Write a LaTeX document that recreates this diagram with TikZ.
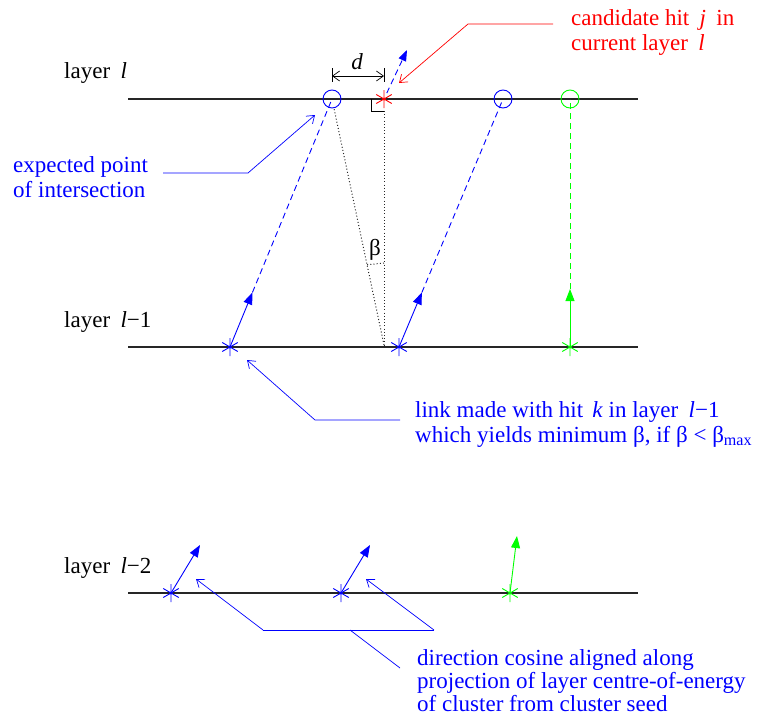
\documentclass[tikz,border=0pt]{standalone}
\usepackage{fontspec}
\setmainfont{Liberation Serif}
\usetikzlibrary{arrows.meta,calc}
\begin{document}
\begin{tikzpicture}[x=1pt,y=-1pt,
  layerline/.style={line width=1.1pt, black!85},
  hitmark/.style={circle, inner sep=0pt, minimum size=19pt,
    path picture={\draw[#1, line width=0.9pt, shift={(path picture bounding box.center)}]
      (90:9pt)--(270:9pt) (30:9pt)--(210:9pt) (150:9pt)--(330:9pt);
      \fill[#1, shift={(path picture bounding box.center)}] (0,0) circle (1.5pt);}},
  expc/.style={circle, draw=#1, line width=0.9pt, inner sep=0pt, minimum size=18pt},
  dirarrow/.style={#1, line width=0.9pt, -{Triangle[length=12pt,width=9pt]}},
  extline/.style={#1, line width=0.9pt, dash pattern=on 6pt off 4pt},
  leader/.style={#1, line width=0.7pt},
  leadarrow/.style={#1, line width=0.7pt, -{Straight Barb[length=7pt,width=10pt]}},
  dotline/.style={black!85, line width=1pt, dash pattern=on 1pt off 2.2pt},
  txt/.style={anchor=base west, inner sep=0pt, font=\fontsize{23}{25}\selectfont}
]
\useasboundingbox (0,0) rectangle (762,720);

% layer lines
\coordinate (L0a) at (128,99);  \coordinate (L0b) at (638,99);
\coordinate (L1a) at (128,347); \coordinate (L1b) at (638,347);
\coordinate (L2a) at (128,593); \coordinate (L2b) at (638,593);
\draw[layerline] (L0a) -- (L0b);
\draw[layerline] (L1a) -- (L1b);
\draw[layerline] (L2a) -- (L2b);

% layer labels
\node[txt] (lab0) at (64,78) {layer\hspace{0.45em}\textit{l}};
\node[txt] (lab1) at (64,327) {layer\hspace{0.45em}\textit{l}−1};
\node[txt] (lab2) at (64,573) {layer\hspace{0.45em}\textit{l}−2};

% hits in layer l-2
\node[hitmark=blue] (m1) at (171,593) {};
\node[hitmark=blue] (m2) at (341,593) {};
\node[hitmark=green] (m3) at (510,593) {};
\coordinate (m1t) at (200,545);
\coordinate (m2t) at (370,545);
\coordinate (m3t) at (517,536);
\draw[dirarrow=blue] (m1.center) -- (m1t);
\draw[dirarrow=blue] (m2.center) -- (m2t);
\draw[dirarrow=green] (m3.center) -- (m3t);

% hits in layer l-1
\node[hitmark=blue] (k1) at (230,347) {};
\node[hitmark=blue] (k2) at (399,347) {};
\node[hitmark=green] (k3) at (570,347) {};

% expected points in layer l
\node[expc=blue] (e1) at (332,99) {};
\node[expc=blue] (e2) at (503,99) {};
\node[expc=green] (e3) at (570,99) {};

% candidate hit j
\node[hitmark=red] (j) at (384,99) {};

% direction vectors and extrapolations
\coordinate (k1t) at ($(k1.center)!0.22!(e1.center)$);
\coordinate (k2t) at ($(k2.center)!0.22!(e2.center)$);
\coordinate (k3t) at (570,289);
\draw[extline=blue] (k1t) -- (e1.center);
\draw[extline=blue] (k2t) -- (e2.center);
\draw[extline=green] (k3t) -- (e3.center);
\draw[dirarrow=blue] (k1.center) -- (k1t);
\draw[dirarrow=blue] (k2.center) -- (k2t);
\draw[dirarrow=green] (k3.center) -- (k3t);

% direction at candidate hit
\coordinate (jt) at (407,50);
\draw[extline=blue, -{Triangle[length=11pt,width=8pt]}] ($(j.center)!0.12!(jt)$) -- (jt);

% beta construction
\coordinate (apex) at (384,345);
\coordinate (rq) at (384,111);
\draw[dotline] (rq) -- (apex);
\draw[dotline] (apex) -- (e1);
\draw[dotline] (384,263) .. controls (375.4,263) .. (367,264.8);
\node[inner sep=0pt, font=\fontsize{23}{25}\selectfont] (beta) at (375,250) {β};
\draw[black, line width=0.7pt] (371,99) -- (371,111) -- (rq);

% d dimension
\coordinate (d1a) at (332,68); \coordinate (d1b) at (332,82);
\coordinate (d2a) at (384,68); \coordinate (d2b) at (384,82);
\draw[black, line width=0.7pt] (d1a) -- (d1b);
\draw[black, line width=0.7pt] (d2a) -- (d2b);
\draw[black, line width=0.7pt, {Straight Barb[length=7pt,width=10pt]}-{Straight Barb[length=7pt,width=10pt]}] (d1a |- 0,76) -- (d2a |- 0,76);
\node[inner sep=0pt, font=\fontsize{23}{25}\selectfont\itshape] (dlab) at (357,62) {d};

% red label
\node[txt, red] (c1) at (571,25) {candidate hit\hspace{0.45em}\textit{j}\hspace{0.45em}in};
\node[txt, red] (c2) at (571,50) {current layer\hspace{0.45em}\textit{l}};
\coordinate (ca) at (553,24); \coordinate (cb) at (468,24); \coordinate (cc) at (399,83);
\draw[leadarrow=red] (ca) -- (cb) -- (cc);

% expected point label
\node[txt, blue] (x1) at (13,172) {expected point};
\node[txt, blue] (x2) at (13,197) {of intersection};
\coordinate (xa) at (163,173); \coordinate (xb) at (248,173); \coordinate (xc) at (315,115);
\draw[leadarrow=blue] (xa) -- (xb) -- (xc);

% link label
\node[txt, blue] (n1) at (415,417) {link made with hit\hspace{0.4em}\textit{k} in layer\hspace{0.45em}\textit{l}−1};
\node[txt, blue] (n2) at (415,442) {which yields minimum β, if β < β\textsubscript{max}};
\coordinate (na) at (400,420); \coordinate (nb) at (315,420); \coordinate (nc) at (247,360);
\draw[leadarrow=blue] (na) -- (nb) -- (nc);

% direction cosine label
\node[txt, blue] (r1) at (417,665) {direction cosine aligned along};
\node[txt, blue] (r2) at (417,688) {projection of layer centre-of-energy};
\node[txt, blue] (r3) at (417,711) {of cluster from cluster seed};
\coordinate (ra) at (263,630); \coordinate (rb) at (434,630);
\coordinate (rc) at (196,579); \coordinate (rd) at (366,579);
\coordinate (re) at (350,630); \coordinate (rf) at (400,668);
\draw[leader=blue] (ra) -- (rb);
\draw[leadarrow=blue] (ra) -- (rc);
\draw[leadarrow=blue] (rb) -- (rd);
\draw[leader=blue] (re) -- (rf);
\end{tikzpicture}
\end{document}
